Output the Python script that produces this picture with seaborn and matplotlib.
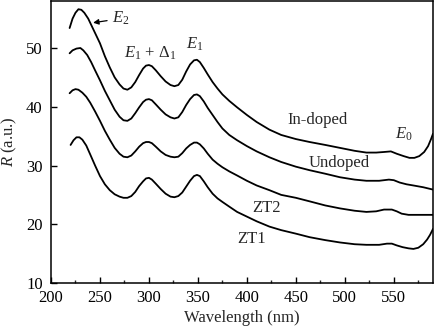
import matplotlib
matplotlib.use("Agg")
import matplotlib.pyplot as plt
import seaborn as sns
import pandas as pd

# ---- data ----
indoped_x = [219, 222, 225, 228, 231, 234, 238, 242, 246, 250, 255, 260, 265, 270, 274, 278, 282, 286,
             290, 294, 297, 300, 303, 307, 312, 317, 322, 326, 330, 334, 338, 342, 346, 349, 352, 356,
             360, 365, 370, 375, 382, 390, 400, 410, 423, 435, 450, 464, 480, 495, 510, 522, 532, 540,
             547, 553, 560, 566, 571, 576, 581, 585, 588, 590]
indoped_y = [53.4, 55.0, 56.0, 56.6, 56.5, 56.0, 55.0, 53.6, 52.2, 50.8, 48.6, 46.7, 45.0, 43.8, 43.1,
             42.9, 43.3, 44.2, 45.4, 46.5, 47.0, 47.1, 46.9, 46.2, 45.2, 44.3, 43.7, 43.5, 43.7, 44.6,
             46.0, 47.2, 47.9, 48.0, 47.6, 46.6, 45.5, 44.2, 43.1, 42.1, 41.0, 39.9, 38.6, 37.4, 36.1,
             35.2, 34.5, 34.0, 33.5, 33.0, 32.5, 32.2, 32.2, 32.3, 32.4, 32.0, 31.6, 31.3, 31.3, 31.6,
             32.3, 33.3, 34.5, 35.4]

undoped_x = [219, 222, 226, 230, 233, 237, 241, 245, 250, 255, 260, 265, 270, 274, 278, 282, 286, 290,
             294, 297, 300, 303, 307, 312, 317, 322, 326, 330, 334, 338, 342, 346, 349, 352, 356, 360,
             365, 370, 375, 382, 390, 400, 410, 423, 435, 450, 464, 480, 495, 510, 522, 535, 545, 550,
             556, 563, 570, 580, 590]
undoped_y = [49.1, 49.6, 49.9, 50.0, 49.6, 48.8, 47.6, 46.2, 44.5, 42.7, 41.1, 39.5, 38.3, 37.7, 37.6,
             38.0, 38.9, 39.9, 40.8, 41.2, 41.3, 41.1, 40.4, 39.5, 38.7, 38.2, 38.0, 38.2, 39.1, 40.3,
             41.3, 42.0, 42.1, 41.8, 40.9, 39.8, 38.6, 37.4, 36.3, 35.2, 34.3, 33.3, 32.4, 31.4, 30.6,
             29.8, 29.2, 28.6, 28.0, 27.6, 27.4, 27.4, 27.6, 27.5, 27.1, 26.8, 26.6, 26.3, 25.9]

zt2_x = [219, 222, 225, 228, 232, 236, 240, 245, 250, 255, 260, 265, 270, 274, 278, 282, 286, 290, 294,
         297, 300, 303, 307, 312, 317, 322, 326, 330, 334, 338, 342, 346, 349, 352, 356, 360, 365, 370,
         375, 382, 390, 400, 410, 423, 435, 450, 464, 480, 495, 510, 522, 532, 540, 548, 553, 558, 565,
         575, 590]
zt2_y = [42.3, 42.8, 43.0, 42.9, 42.4, 41.7, 40.7, 39.2, 37.6, 35.9, 34.4, 33.0, 32.0, 31.5, 31.4, 31.7,
         32.4, 33.2, 33.8, 34.0, 34.0, 33.8, 33.2, 32.4, 31.8, 31.5, 31.4, 31.5, 32.1, 32.9, 33.5, 33.9,
         33.9, 33.6, 32.9, 32.0, 31.0, 30.3, 29.7, 29.0, 28.3, 27.4, 26.6, 25.8, 25.0, 24.5, 23.9, 23.2,
         22.7, 22.3, 22.1, 22.2, 22.5, 22.5, 22.2, 21.8, 21.6, 21.6, 21.6]

zt1_x = [220, 223, 226, 229, 232, 236, 240, 245, 250, 255, 260, 265, 270, 274, 278, 282, 286, 290, 294,
         297, 300, 303, 307, 312, 317, 322, 326, 330, 334, 338, 342, 346, 349, 352, 356, 360, 365, 370,
         375, 382, 390, 400, 410, 423, 435, 450, 464, 480, 495, 510, 522, 535, 543, 548, 553, 559, 565,
         570, 575, 580, 584, 587, 590]
zt1_y = [33.5, 34.3, 34.8, 34.8, 34.4, 33.4, 31.9, 30.0, 28.2, 26.8, 25.8, 25.1, 24.7, 24.5, 24.5, 24.8,
         25.5, 26.5, 27.3, 27.8, 27.9, 27.6, 26.9, 26.0, 25.2, 24.7, 24.6, 24.8, 25.4, 26.4, 27.4, 28.2,
         28.4, 28.2, 27.3, 26.3, 25.2, 24.4, 23.8, 23.0, 22.1, 21.3, 20.5, 19.6, 19.0, 18.4, 17.8, 17.3,
         16.9, 16.6, 16.5, 16.5, 16.7, 16.7, 16.4, 16.1, 15.9, 15.8, 16.0, 16.6, 17.4, 18.2, 19.2]

series_names = ["In-doped", "Undoped", "ZT2", "ZT1"]
xticks = [200, 250, 300, 350, 400, 450, 500, 550]
yticks = [10, 20, 30, 40, 50]

frames = []
for name, xs, ys in zip(series_names, [indoped_x, undoped_x, zt2_x, zt1_x],
                        [indoped_y, undoped_y, zt2_y, zt1_y]):
    frames.append(pd.DataFrame({"wl": xs, "R": ys, "sample": name}))
df = pd.concat(frames, ignore_index=True)

sns.set_theme(style="ticks")
plt.rcParams["font.family"] = ["Liberation Serif", "DejaVu Serif"]
plt.rcParams["mathtext.fontset"] = "custom"
plt.rcParams["mathtext.rm"] = "Liberation Serif"
plt.rcParams["mathtext.it"] = "Liberation Serif:italic"
plt.rcParams["xtick.direction"] = "in"
plt.rcParams["ytick.direction"] = "in"

fig = plt.figure(figsize=(4.35, 3.31), dpi=100)
ax = fig.add_axes([51 / 435, 48 / 331, 382 / 435, 282 / 331])

sns.lineplot(data=df, x="wl", y="R", hue="sample", units="sample", estimator=None,
             palette=["black"] * 4, linewidth=1.3, legend=False, ax=ax, sort=False)

ax.set_xlim(200, 590)
ax.set_ylim(10, 58)
ax.set_xticks(xticks)
ax.set_yticks(yticks)
ax.set_xticks(range(225, 590, 50), minor=True)
ax.tick_params(axis="both", which="major", length=4, width=1, labelsize=12, colors="black")
ax.tick_params(axis="x", which="major", pad=5)
ax.tick_params(axis="y", which="major", pad=6)
ax.tick_params(axis="x", which="minor", length=2.5, width=1)
for s in ax.spines.values():
    s.set_linewidth(1.1)
    s.set_color("black")

ax.set_xlabel("Wavelength (nm)", fontsize=12, labelpad=3)
ax.set_ylabel(r"$\it{R}$ (a.u.)", fontsize=12, labelpad=5)

fs = 12
ax.annotate(r"$E_2$", xy=(243, 54.3), xytext=(262, 55.0), fontsize=fs, va="center", ha="left",
            arrowprops=dict(arrowstyle="-|>", color="black", lw=0.9, mutation_scale=8,
                            shrinkA=1, shrinkB=0))
ax.text(301, 49.1, r"$E_1$ + $\mathit{\Delta}_1$", fontsize=fs, ha="center", va="center")
ax.text(347, 50.6, r"$E_1$", fontsize=fs, ha="center", va="center")
ax.text(472, 37.7, "In-doped", fontsize=fs, ha="center", va="center")
ax.text(560, 35.3, r"$E_0$", fontsize=fs, ha="center", va="center")
ax.text(494, 30.4, "Undoped", fontsize=fs, ha="center", va="center")
ax.text(420, 22.7, "ZT2", fontsize=fs, ha="center", va="center")
ax.text(405, 17.5, "ZT1", fontsize=fs, ha="center", va="center")

fig.savefig("out.png", dpi=100)
